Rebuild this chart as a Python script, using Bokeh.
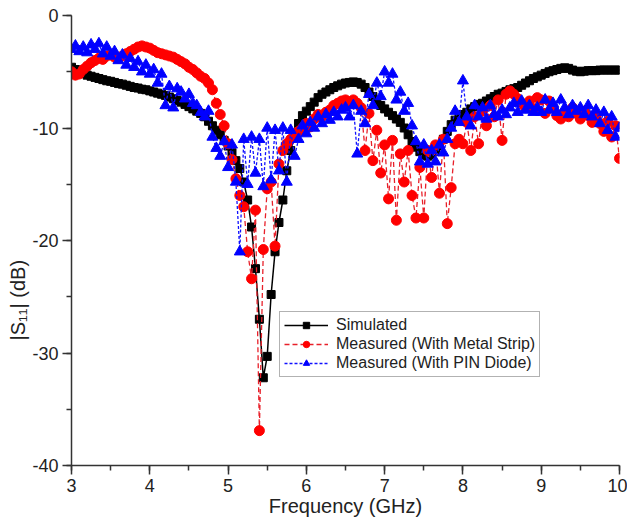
import numpy as np
from bokeh.plotting import figure
from bokeh.models import Range1d, SingleIntervalTicker, Legend, LegendItem, CustomJSTickFormatter, Title
from bokeh.embed import file_html
from bokeh.resources import INLINE

freq = [round(3.0 + 0.05 * i, 2) for i in range(141)]

simulated = [
    -4.6, -4.8, -5.0, -5.15, -5.3, -5.4, -5.5, -5.6, -5.7, -5.8,
    -5.85, -5.95, -6.05, -6.1, -6.2, -6.3, -6.4, -6.45, -6.55, -6.6,
    -6.7, -6.8, -6.9, -7.0, -7.1, -7.25, -7.4, -7.55, -7.7, -7.9,
    -8.1, -8.3, -8.5, -8.7, -9.0, -9.4, -9.8, -10.2, -10.6, -11.1,
    -11.6, -12.2, -12.9, -13.6, -14.8, -16.4, -18.8, -22.5, -27.0, -32.2,
    -30.3, -24.8, -21.0, -18.4, -16.4, -13.8, -12.0, -10.6, -9.6, -8.9,
    -8.5, -8.1, -7.7, -7.3, -7.0, -6.8, -6.6, -6.4, -6.25, -6.1,
    -6.0, -5.95, -5.9, -5.95, -6.1, -6.4, -6.8, -7.2, -7.6, -8.0,
    -8.3, -8.6, -8.9, -9.2, -9.5, -10.0, -10.6, -11.2, -11.7, -12.1,
    -12.4, -12.5, -12.4, -12.1, -11.6, -11.0, -10.3, -9.7, -9.3, -9.0,
    -8.8, -8.6, -8.3, -8.1, -7.9, -7.8, -7.6, -7.4, -7.2, -7.0,
    -6.9, -6.75, -6.6, -6.5, -6.4, -6.2, -6.0, -5.8, -5.6, -5.45,
    -5.3, -5.15, -5.0, -4.9, -4.8, -4.7, -4.65, -4.7, -4.85, -4.95,
    -5.0, -4.95, -4.9, -4.9, -4.9, -4.85, -4.85, -4.85, -4.85, -4.85,
    -4.85,
]

metal_strip = [
    -5.0, -5.3, -5.2, -4.8, -4.5, -4.2, -4.0, -3.8, -3.9, -3.6,
    -3.5, -3.7, -3.8, -3.6, -3.4, -3.2, -3.0, -2.8, -2.7, -2.8,
    -2.9, -3.1, -3.3, -3.4, -3.5, -3.6, -3.7, -3.9, -4.1, -4.3,
    -4.6, -4.8, -5.1, -5.4, -5.6, -6.0, -6.6, -7.8, -8.8, -9.8,
    -11.4, -12.8, -14.5, -16.0, -17.0, -21.0, -23.4, -17.3, -36.9, -20.8,
    -15.4, -14.8, -20.5, -13.2, -12.0, -11.4, -11.0, -10.6, -10.3, -10.0,
    -9.6, -9.9, -9.2, -8.8, -9.0, -8.6, -8.4, -8.0, -7.8, -7.6,
    -7.5, -7.7, -7.5, -7.8, -8.2, -12.0, -8.7, -12.9, -10.2, -14.0,
    -11.5, -16.3, -11.1, -18.2, -12.3, -14.8, -12.0, -16.0, -18.0, -13.5,
    -18.0, -12.0, -14.4, -11.5, -15.8, -11.0, -18.5, -15.3, -11.4, -11.0,
    -11.4, -9.5, -12.0, -9.0, -11.4, -8.5, -9.8, -8.0, -9.0, -7.5,
    -11.1, -7.0, -6.7, -7.0, -7.4, -7.8, -8.2, -7.6, -8.3, -7.3,
    -7.5, -8.7, -7.6, -8.2, -8.9, -9.2, -8.6, -9.0, -8.2, -8.7,
    -9.2, -8.5, -8.9, -9.5, -9.0, -9.6, -10.3, -9.4, -10.8, -9.8,
    -12.7,
]

pin_diode = [
    -3.0, -2.7, -3.2, -2.8, -3.3, -2.6, -3.0, -2.5, -3.4, -2.8,
    -3.6, -3.2, -4.0, -3.5, -4.4, -3.8, -4.6, -4.1, -5.0, -4.4,
    -5.2, -4.8, -6.0, -5.2, -8.0, -6.3, -8.2, -6.5, -6.8, -7.4,
    -7.0, -7.8, -8.0, -8.6, -9.0, -8.5, -10.8, -11.8, -12.5, -11.2,
    -13.5, -11.5, -14.8, -21.0, -11.0, -15.0, -10.8, -14.0, -11.0, -15.2,
    -10.0, -14.6, -10.2, -13.8, -10.0, -14.8, -10.2, -12.5, -11.0, -9.8,
    -10.5, -9.5, -10.0, -9.0, -9.6, -8.8, -9.3, -8.6, -9.0, -8.4,
    -8.2, -9.0, -8.0, -12.3, -8.5, -9.6, -7.0, -8.0, -6.0, -7.2,
    -5.0, -6.0, -5.2, -7.5, -6.8, -8.5, -7.8, -9.8, -11.2, -13.0,
    -11.5, -13.2, -12.0, -13.0, -11.5, -12.2, -11.0, -10.0, -8.5, -9.5,
    -5.8, -9.0, -9.8, -8.0, -9.0, -8.2, -9.2, -8.0, -8.8, -9.0,
    -8.4, -8.8, -8.2, -7.8, -8.6, -7.6, -8.4, -8.0, -8.6, -8.2,
    -8.6, -7.5, -8.4, -7.8, -8.6, -7.5, -8.2, -8.8, -8.0, -8.5,
    -8.2, -8.8, -8.0, -9.0, -8.4, -9.6, -8.6, -10.2, -9.0, -10.8,
    -10.0,
]

series_labels = ["Simulated", "Measured (With Metal Strip)", "Measured (With PIN Diode)"]
x_title = "Frequency (GHz)"
y_title = "|S\u2081\u2081| (dB)"

FONT = "Liberation Sans"

p = figure(frame_width=548, frame_height=450, output_backend="svg", toolbar_location=None,
           x_range=Range1d(3, 10), y_range=Range1d(-40, 0),
           min_border_left=71, min_border_right=8, min_border_top=15, min_border_bottom=0)
p.outline_line_color = None
p.xgrid.visible = False
p.ygrid.visible = False
p.background_fill_color = "white"
p.border_fill_color = "white"

p.xaxis.ticker = SingleIntervalTicker(interval=1, num_minor_ticks=2)
p.yaxis.ticker = SingleIntervalTicker(interval=10, num_minor_ticks=2)
fmt_code = "return tick.toString();"
p.xaxis.formatter = CustomJSTickFormatter(code=fmt_code)
p.yaxis.formatter = CustomJSTickFormatter(code=fmt_code)

for ax in (p.xaxis[0], p.yaxis[0]):
    ax.axis_line_width = 1.5
    ax.axis_line_color = "#333333"
    ax.major_tick_line_color = "#333333"
    ax.minor_tick_line_color = "#333333"
    ax.major_tick_line_width = 1.5
    ax.minor_tick_line_width = 1.5
    ax.major_tick_in = 0
    ax.major_tick_out = 9
    ax.minor_tick_in = 0
    ax.minor_tick_out = 5
    ax.major_label_text_font = FONT
    ax.major_label_text_font_size = "18px"
    ax.major_label_text_color = "#222222"
    ax.axis_label_text_font = FONT
    ax.axis_label_text_font_size = "20px"
    ax.axis_label_text_font_style = "normal"
    ax.axis_label_text_color = "#222222"

p.xaxis.axis_label = x_title
p.xaxis.major_label_standoff = 4
p.xaxis.axis_label_standoff = 0
p.yaxis.major_label_standoff = 4

ytitle = Title(text=y_title, align="left", offset=125, standoff=2,
               text_font=FONT, text_font_size="20px", text_font_style="normal",
               text_color="#222222")
p.add_layout(ytitle, "left")

l1 = p.line(freq, simulated, line_color="black", line_width=1.5)
s1 = p.scatter(freq, simulated, marker="square", size=8, fill_color="black", line_color="black")

l2 = p.line(freq, metal_strip, line_color="#e8202a", line_width=1.3, line_dash="5 3")
s2 = p.scatter(freq, metal_strip, marker="circle", size=10, fill_color="#ff0000", line_color="#ff0000")

l3 = p.line(freq, pin_diode, line_color="#1010ff", line_width=1.3, line_dash="3 2")
s3 = p.scatter(freq, pin_diode, marker="triangle", size=11, fill_color="#0000ff", line_color="#0000ff")

legend = Legend(items=[
    LegendItem(label=series_labels[0], renderers=[l1, s1]),
    LegendItem(label=series_labels[1], renderers=[l2, s2]),
    LegendItem(label=series_labels[2], renderers=[l3, s3]),
], location=(208, 88))
legend.label_text_font = FONT
legend.label_text_font_size = "16px"
legend.label_text_color = "#222222"
legend.label_height = 16
legend.glyph_height = 16
legend.glyph_width = 44
legend.label_standoff = 8
legend.spacing = 1
legend.padding = 4
legend.margin = 0
legend.border_line_color = "#666666"
legend.border_line_width = 1
legend.background_fill_alpha = 1.0
p.add_layout(legend)

open("out.html", "w").write(file_html(p, INLINE))
